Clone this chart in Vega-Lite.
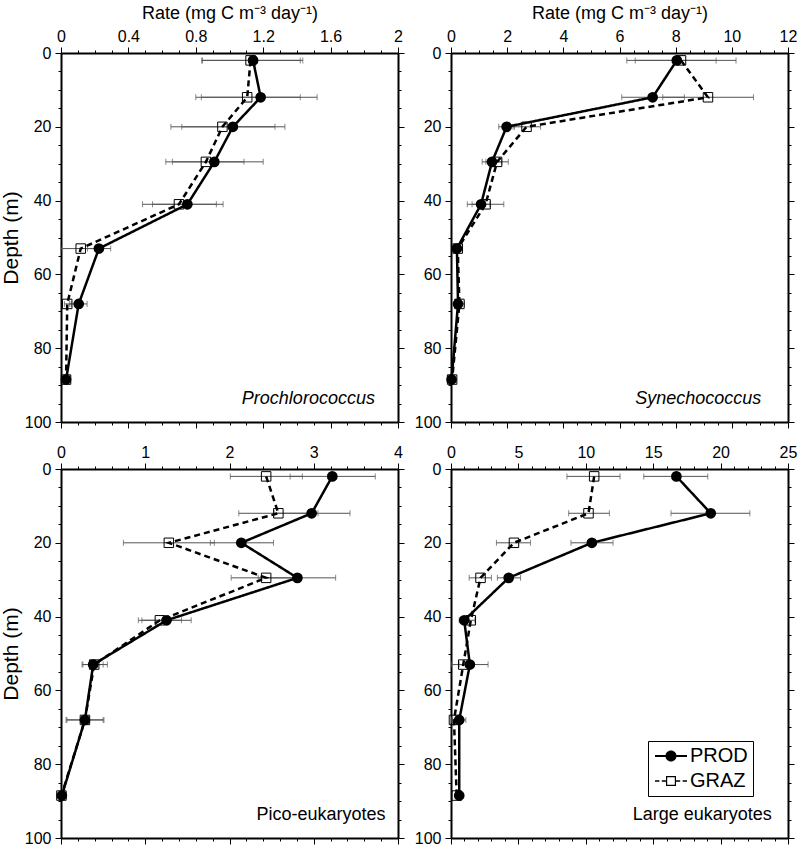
{
 "$schema": "https://vega.github.io/schema/vega-lite/v6.json",
 "padding": {"left": 0, "top": 4, "right": 5, "bottom": 5},
 "background": "white",
 "config": {
  "font": "Liberation Sans",
  "view": {"stroke": null},
  "axis": {"domainColor": "black", "domainWidth": 2, "tickColor": "black", "tickWidth": 1, "labelFontSize": 16, "labelColor": "black", "titleColor": "black", "titleFontWeight": "normal", "titleFontSize": 18, "grid": false, "labelFlush": false, "labelOverlap": false, "labelPadding": 3, "titlePadding": 6}
 },
 "datasets": {
  "rows": [
   {"panel":"P","series":"PROD","depth":2,"rate":1.14,"lo":0.84,"hi":1.435},
   {"panel":"P","series":"PROD","depth":12,"rate":1.185,"lo":0.833,"hi":1.52},
   {"panel":"P","series":"PROD","depth":20,"rate":1.02,"lo":0.717,"hi":1.329},
   {"panel":"P","series":"PROD","depth":29.5,"rate":0.91,"lo":0.622,"hi":1.2},
   {"panel":"P","series":"PROD","depth":41,"rate":0.75,"lo":0.543,"hi":0.962},
   {"panel":"P","series":"PROD","depth":53,"rate":0.225,"lo":0.157,"hi":0.295},
   {"panel":"P","series":"PROD","depth":68,"rate":0.105,"lo":0.05,"hi":0.155},
   {"panel":"P","series":"PROD","depth":88.5,"rate":0.03,"lo":null,"hi":null},
   {"panel":"P","series":"GRAZ","depth":2,"rate":1.125,"lo":0.835,"hi":1.42},
   {"panel":"P","series":"GRAZ","depth":12,"rate":1.105,"lo":0.8,"hi":1.42},
   {"panel":"P","series":"GRAZ","depth":20,"rate":0.958,"lo":0.652,"hi":1.27},
   {"panel":"P","series":"GRAZ","depth":29.5,"rate":0.86,"lo":0.661,"hi":1.086},
   {"panel":"P","series":"GRAZ","depth":41,"rate":0.7,"lo":0.484,"hi":0.922},
   {"panel":"P","series":"GRAZ","depth":53,"rate":0.117,"lo":0,"hi":0.235},
   {"panel":"P","series":"GRAZ","depth":68,"rate":0.037,"lo":0.02,"hi":0.06},
   {"panel":"P","series":"GRAZ","depth":88.5,"rate":0.03,"lo":null,"hi":null},
   {"panel":"S","series":"PROD","depth":2,"rate":8.04,"lo":6.56,"hi":9.44},
   {"panel":"S","series":"PROD","depth":12,"rate":7.18,"lo":6.08,"hi":8.31},
   {"panel":"S","series":"PROD","depth":20,"rate":1.98,"lo":1.7,"hi":2.26},
   {"panel":"S","series":"PROD","depth":29.5,"rate":1.46,"lo":1.11,"hi":1.81},
   {"panel":"S","series":"PROD","depth":41,"rate":1.07,"lo":0.75,"hi":1.39},
   {"panel":"S","series":"PROD","depth":53,"rate":0.21,"lo":0.13,"hi":0.29},
   {"panel":"S","series":"PROD","depth":68,"rate":0.25,"lo":0.12,"hi":0.38},
   {"panel":"S","series":"PROD","depth":88.5,"rate":0.02,"lo":null,"hi":null},
   {"panel":"S","series":"GRAZ","depth":2,"rate":8.19,"lo":6.26,"hi":10.15},
   {"panel":"S","series":"GRAZ","depth":12,"rate":9.15,"lo":7.54,"hi":10.77},
   {"panel":"S","series":"GRAZ","depth":20,"rate":2.69,"lo":2.21,"hi":3.19},
   {"panel":"S","series":"GRAZ","depth":29.5,"rate":1.64,"lo":1.24,"hi":2.04},
   {"panel":"S","series":"GRAZ","depth":41,"rate":1.23,"lo":0.58,"hi":1.88},
   {"panel":"S","series":"GRAZ","depth":53,"rate":0.24,"lo":0.15,"hi":0.33},
   {"panel":"S","series":"GRAZ","depth":68,"rate":0.3,"lo":0.12,"hi":0.48},
   {"panel":"S","series":"GRAZ","depth":88.5,"rate":0.04,"lo":null,"hi":null},
   {"panel":"PE","series":"PROD","depth":2,"rate":3.22,"lo":2.72,"hi":3.73},
   {"panel":"PE","series":"PROD","depth":12,"rate":2.975,"lo":2.53,"hi":3.43},
   {"panel":"PE","series":"PROD","depth":20,"rate":2.14,"lo":1.773,"hi":2.522},
   {"panel":"PE","series":"PROD","depth":29.5,"rate":2.806,"lo":2.34,"hi":3.26},
   {"panel":"PE","series":"PROD","depth":41,"rate":1.253,"lo":0.96,"hi":1.545},
   {"panel":"PE","series":"PROD","depth":53,"rate":0.382,"lo":0.26,"hi":0.5},
   {"panel":"PE","series":"PROD","depth":68,"rate":0.284,"lo":0.06,"hi":0.51},
   {"panel":"PE","series":"PROD","depth":88.5,"rate":0.01,"lo":null,"hi":null},
   {"panel":"PE","series":"GRAZ","depth":2,"rate":2.435,"lo":2.01,"hi":2.865},
   {"panel":"PE","series":"GRAZ","depth":12,"rate":2.58,"lo":2.11,"hi":3.05},
   {"panel":"PE","series":"GRAZ","depth":20,"rate":1.28,"lo":0.741,"hi":1.82},
   {"panel":"PE","series":"GRAZ","depth":29.5,"rate":2.435,"lo":2.02,"hi":2.85},
   {"panel":"PE","series":"GRAZ","depth":41,"rate":1.174,"lo":0.918,"hi":1.43},
   {"panel":"PE","series":"GRAZ","depth":53,"rate":0.394,"lo":0.25,"hi":0.55},
   {"panel":"PE","series":"GRAZ","depth":68,"rate":0.284,"lo":0.07,"hi":0.5},
   {"panel":"PE","series":"GRAZ","depth":88.5,"rate":0.005,"lo":null,"hi":null},
   {"panel":"LE","series":"PROD","depth":2,"rate":16.72,"lo":14.3,"hi":19.05},
   {"panel":"LE","series":"PROD","depth":12,"rate":19.27,"lo":16.32,"hi":22.17},
   {"panel":"LE","series":"PROD","depth":20,"rate":10.45,"lo":8.9,"hi":12.02},
   {"panel":"LE","series":"PROD","depth":29.5,"rate":4.28,"lo":3.44,"hi":5.16},
   {"panel":"LE","series":"PROD","depth":41,"rate":0.98,"lo":0.61,"hi":1.35},
   {"panel":"LE","series":"PROD","depth":53,"rate":1.4,"lo":0.05,"hi":2.75},
   {"panel":"LE","series":"PROD","depth":68,"rate":0.61,"lo":0.12,"hi":1.1},
   {"panel":"LE","series":"PROD","depth":88.5,"rate":0.61,"lo":null,"hi":null},
   {"panel":"LE","series":"GRAZ","depth":2,"rate":10.62,"lo":8.6,"hi":12.54},
   {"panel":"LE","series":"GRAZ","depth":12,"rate":10.2,"lo":8.73,"hi":11.75},
   {"panel":"LE","series":"GRAZ","depth":20,"rate":4.67,"lo":3.37,"hi":5.9},
   {"panel":"LE","series":"GRAZ","depth":29.5,"rate":2.19,"lo":1.35,"hi":3.0},
   {"panel":"LE","series":"GRAZ","depth":41,"rate":1.47,"lo":1.17,"hi":1.77},
   {"panel":"LE","series":"GRAZ","depth":53,"rate":0.91,"lo":0.6,"hi":1.2},
   {"panel":"LE","series":"GRAZ","depth":68,"rate":0.22,"lo":0.05,"hi":0.4},
   {"panel":"LE","series":"GRAZ","depth":88.5,"rate":0.42,"lo":null,"hi":null}
  ]
 },
 "columns": 2,
 "spacing": {"row": 47, "column": 53},
 "bounds": "flush",
 "resolve": {"scale": {"shape": "independent"}, "legend": {"shape": "independent"}},
 "concat": [
  {
   "width": 337, "height": 369,
   "resolve": {"axis": {"x": "independent", "y": "independent"}},
   "layer": [
    {"data": {"name": "rows"}, "transform": [{"filter": "datum.panel == 'P' && isValid(datum.lo)"}],
     "mark": {"type": "rule", "color": "#555", "strokeWidth": 1},
     "encoding": {
      "x": {"field": "lo", "type": "quantitative", "scale": {"domain": [0, 2], "nice": false, "zero": false},
            "axis": {"orient": "top", "values": [0,0.1,0.2,0.3,0.4,0.5,0.6,0.7,0.8,0.9,1,1.1,1.2,1.3,1.4,1.5,1.6,1.7,1.8,1.9,2], "format": "~g",
                     "labelExpr": "abs(datum.value/0.4 - round(datum.value/0.4)) < 0.001 ? datum.label : ''",
                     "tickSize": {"condition": {"test": "abs(datum.value/0.4 - round(datum.value/0.4)) < 0.001", "value": 6}, "value": 3},
                     "title": "Rate (mg C m⁻³ day⁻¹)"}},
      "x2": {"field": "hi"},
      "y": {"field": "depth", "type": "quantitative", "scale": {"domain": [0, 100], "reverse": true, "nice": false, "zero": false},
            "axis": {"orient": "left", "values": [0,5,10,15,20,25,30,35,40,45,50,55,60,65,70,75,80,85,90,95,100],
                     "labelExpr": "datum.value % 20 == 0 ? datum.label : ''",
                     "tickSize": {"condition": {"test": "datum.value % 20 == 0", "value": 6}, "value": 3},
                     "title": "Depth (m)", "titleFontSize": 21, "labelPadding": 4, "titlePadding": 3}}
     }},
    {"data": {"name": "rows"}, "transform": [{"filter": "datum.panel == 'P' && isValid(datum.lo)"}],
     "mark": {"type": "tick", "orient": "vertical", "color": "#555", "size": 6, "thickness": 1},
     "encoding": {
      "x": {"field": "lo", "type": "quantitative",
            "axis": {"orient": "bottom", "values": [0,0.1,0.2,0.3,0.4,0.5,0.6,0.7,0.8,0.9,1,1.1,1.2,1.3,1.4,1.5,1.6,1.7,1.8,1.9,2], "labels": false,
                     "tickSize": {"condition": {"test": "abs(datum.value/0.4 - round(datum.value/0.4)) < 0.001", "value": 6}, "value": 3}, "title": null}},
      "y": {"field": "depth", "type": "quantitative",
            "axis": {"orient": "right", "values": [0,5,10,15,20,25,30,35,40,45,50,55,60,65,70,75,80,85,90,95,100], "labels": false,
                     "tickSize": {"condition": {"test": "datum.value % 20 == 0", "value": 6}, "value": 3}, "title": null}}
     }},
    {"data": {"name": "rows"}, "transform": [{"filter": "datum.panel == 'P' && isValid(datum.hi)"}],
     "mark": {"type": "tick", "orient": "vertical", "color": "#555", "size": 6, "thickness": 1},
     "encoding": {"x": {"field": "hi", "type": "quantitative", "axis": null}, "y": {"field": "depth", "type": "quantitative", "axis": null}}},
    {"data": {"name": "rows"}, "transform": [{"filter": "datum.panel == 'P'"}],
     "mark": {"type": "line", "color": "black", "strokeWidth": 2.5},
     "encoding": {"x": {"field": "rate", "type": "quantitative", "axis": null}, "y": {"field": "depth", "type": "quantitative", "axis": null},
                  "order": {"field": "depth", "type": "quantitative"},
                  "strokeDash": {"field": "series", "type": "nominal", "scale": {"domain": ["PROD", "GRAZ"], "range": [[1, 0], [6, 4]]}, "legend": null}}},
    {"data": {"name": "rows"}, "transform": [{"filter": "datum.panel == 'P' && datum.series == 'GRAZ'"}],
     "mark": {"type": "point", "shape": "square", "filled": false, "color": "black", "strokeWidth": 1, "size": 90, "opacity": 1},
     "encoding": {"x": {"field": "rate", "type": "quantitative", "axis": null}, "y": {"field": "depth", "type": "quantitative", "axis": null}}},
    {"data": {"name": "rows"}, "transform": [{"filter": "datum.panel == 'P' && datum.series == 'PROD'"}],
     "mark": {"type": "point", "shape": "circle", "filled": true, "color": "black", "size": 115, "opacity": 1},
     "encoding": {"x": {"field": "rate", "type": "quantitative", "axis": null}, "y": {"field": "depth", "type": "quantitative", "axis": null}}},
    {"data": {"values": [{"label": "Prochlorococcus"}]},
     "mark": {"type": "text", "align": "right", "baseline": "alphabetic", "fontSize": 18, "fontStyle": "italic", "color": "black"},
     "encoding": {"text": {"field": "label"}, "x": {"datum": 1.863, "type": "quantitative", "axis": null}, "y": {"datum": 95, "type": "quantitative", "axis": null}}}
   ]
  },
  {
   "width": 337, "height": 369,
   "resolve": {"axis": {"x": "independent", "y": "independent"}},
   "layer": [
    {"data": {"name": "rows"}, "transform": [{"filter": "datum.panel == 'S' && isValid(datum.lo)"}],
     "mark": {"type": "rule", "color": "#555", "strokeWidth": 1},
     "encoding": {
      "x": {"field": "lo", "type": "quantitative", "scale": {"domain": [0, 12], "nice": false, "zero": false},
            "axis": {"orient": "top", "values": [0,0.5,1,1.5,2,2.5,3,3.5,4,4.5,5,5.5,6,6.5,7,7.5,8,8.5,9,9.5,10,10.5,11,11.5,12], "format": "~g",
                     "labelExpr": "datum.value % 2 == 0 ? datum.label : ''",
                     "tickSize": {"condition": {"test": "datum.value % 2 == 0", "value": 6}, "value": 3},
                     "title": "Rate (mg C m⁻³ day⁻¹)"}},
      "x2": {"field": "hi"},
      "y": {"field": "depth", "type": "quantitative", "scale": {"domain": [0, 100], "reverse": true, "nice": false, "zero": false},
            "axis": {"orient": "left", "values": [0,5,10,15,20,25,30,35,40,45,50,55,60,65,70,75,80,85,90,95,100],
                     "labelExpr": "datum.value % 20 == 0 ? datum.label : ''",
                     "tickSize": {"condition": {"test": "datum.value % 20 == 0", "value": 6}, "value": 3},
                     "title": null, "labelPadding": 4}}
     }},
    {"data": {"name": "rows"}, "transform": [{"filter": "datum.panel == 'S' && isValid(datum.lo)"}],
     "mark": {"type": "tick", "orient": "vertical", "color": "#555", "size": 6, "thickness": 1},
     "encoding": {
      "x": {"field": "lo", "type": "quantitative",
            "axis": {"orient": "bottom", "values": [0,0.5,1,1.5,2,2.5,3,3.5,4,4.5,5,5.5,6,6.5,7,7.5,8,8.5,9,9.5,10,10.5,11,11.5,12], "labels": false,
                     "tickSize": {"condition": {"test": "datum.value % 2 == 0", "value": 6}, "value": 3}, "title": null}},
      "y": {"field": "depth", "type": "quantitative",
            "axis": {"orient": "right", "values": [0,5,10,15,20,25,30,35,40,45,50,55,60,65,70,75,80,85,90,95,100], "labels": false,
                     "tickSize": {"condition": {"test": "datum.value % 20 == 0", "value": 6}, "value": 3}, "title": null}}
     }},
    {"data": {"name": "rows"}, "transform": [{"filter": "datum.panel == 'S' && isValid(datum.hi)"}],
     "mark": {"type": "tick", "orient": "vertical", "color": "#555", "size": 6, "thickness": 1},
     "encoding": {"x": {"field": "hi", "type": "quantitative", "axis": null}, "y": {"field": "depth", "type": "quantitative", "axis": null}}},
    {"data": {"name": "rows"}, "transform": [{"filter": "datum.panel == 'S'"}],
     "mark": {"type": "line", "color": "black", "strokeWidth": 2.5},
     "encoding": {"x": {"field": "rate", "type": "quantitative", "axis": null}, "y": {"field": "depth", "type": "quantitative", "axis": null},
                  "order": {"field": "depth", "type": "quantitative"},
                  "strokeDash": {"field": "series", "type": "nominal", "scale": {"domain": ["PROD", "GRAZ"], "range": [[1, 0], [6, 4]]}, "legend": null}}},
    {"data": {"name": "rows"}, "transform": [{"filter": "datum.panel == 'S' && datum.series == 'GRAZ'"}],
     "mark": {"type": "point", "shape": "square", "filled": false, "color": "black", "strokeWidth": 1, "size": 90, "opacity": 1},
     "encoding": {"x": {"field": "rate", "type": "quantitative", "axis": null}, "y": {"field": "depth", "type": "quantitative", "axis": null}}},
    {"data": {"name": "rows"}, "transform": [{"filter": "datum.panel == 'S' && datum.series == 'PROD'"}],
     "mark": {"type": "point", "shape": "circle", "filled": true, "color": "black", "size": 115, "opacity": 1},
     "encoding": {"x": {"field": "rate", "type": "quantitative", "axis": null}, "y": {"field": "depth", "type": "quantitative", "axis": null}}},
    {"data": {"values": [{"label": "Synechococcus"}]},
     "mark": {"type": "text", "align": "right", "baseline": "alphabetic", "fontSize": 18, "fontStyle": "italic", "color": "black"},
     "encoding": {"text": {"field": "label"}, "x": {"datum": 11.05, "type": "quantitative", "axis": null}, "y": {"datum": 95, "type": "quantitative", "axis": null}}}
   ]
  },
  {
   "width": 337, "height": 369,
   "resolve": {"axis": {"x": "independent", "y": "independent"}},
   "layer": [
    {"data": {"name": "rows"}, "transform": [{"filter": "datum.panel == 'PE' && isValid(datum.lo)"}],
     "mark": {"type": "rule", "color": "#555", "strokeWidth": 1},
     "encoding": {
      "x": {"field": "lo", "type": "quantitative", "scale": {"domain": [0, 4], "nice": false, "zero": false},
            "axis": {"orient": "top", "values": [0,0.2,0.4,0.6,0.8,1,1.2,1.4,1.6,1.8,2,2.2,2.4,2.6,2.8,3,3.2,3.4,3.6,3.8,4], "format": "~g",
                     "labelExpr": "datum.value % 1 == 0 ? datum.label : ''",
                     "tickSize": {"condition": {"test": "datum.value % 1 == 0", "value": 6}, "value": 3},
                     "title": null}},
      "x2": {"field": "hi"},
      "y": {"field": "depth", "type": "quantitative", "scale": {"domain": [0, 100], "reverse": true, "nice": false, "zero": false},
            "axis": {"orient": "left", "values": [0,5,10,15,20,25,30,35,40,45,50,55,60,65,70,75,80,85,90,95,100],
                     "labelExpr": "datum.value % 20 == 0 ? datum.label : ''",
                     "tickSize": {"condition": {"test": "datum.value % 20 == 0", "value": 6}, "value": 3},
                     "title": "Depth (m)", "titleFontSize": 21, "labelPadding": 4, "titlePadding": 3}}
     }},
    {"data": {"name": "rows"}, "transform": [{"filter": "datum.panel == 'PE' && isValid(datum.lo)"}],
     "mark": {"type": "tick", "orient": "vertical", "color": "#555", "size": 6, "thickness": 1},
     "encoding": {
      "x": {"field": "lo", "type": "quantitative",
            "axis": {"orient": "bottom", "values": [0,0.2,0.4,0.6,0.8,1,1.2,1.4,1.6,1.8,2,2.2,2.4,2.6,2.8,3,3.2,3.4,3.6,3.8,4], "labels": false,
                     "tickSize": {"condition": {"test": "datum.value % 1 == 0", "value": 6}, "value": 3}, "title": null}},
      "y": {"field": "depth", "type": "quantitative",
            "axis": {"orient": "right", "values": [0,5,10,15,20,25,30,35,40,45,50,55,60,65,70,75,80,85,90,95,100], "labels": false,
                     "tickSize": {"condition": {"test": "datum.value % 20 == 0", "value": 6}, "value": 3}, "title": null}}
     }},
    {"data": {"name": "rows"}, "transform": [{"filter": "datum.panel == 'PE' && isValid(datum.hi)"}],
     "mark": {"type": "tick", "orient": "vertical", "color": "#555", "size": 6, "thickness": 1},
     "encoding": {"x": {"field": "hi", "type": "quantitative", "axis": null}, "y": {"field": "depth", "type": "quantitative", "axis": null}}},
    {"data": {"name": "rows"}, "transform": [{"filter": "datum.panel == 'PE'"}],
     "mark": {"type": "line", "color": "black", "strokeWidth": 2.5},
     "encoding": {"x": {"field": "rate", "type": "quantitative", "axis": null}, "y": {"field": "depth", "type": "quantitative", "axis": null},
                  "order": {"field": "depth", "type": "quantitative"},
                  "strokeDash": {"field": "series", "type": "nominal", "scale": {"domain": ["PROD", "GRAZ"], "range": [[1, 0], [6, 4]]}, "legend": null}}},
    {"data": {"name": "rows"}, "transform": [{"filter": "datum.panel == 'PE' && datum.series == 'GRAZ'"}],
     "mark": {"type": "point", "shape": "square", "filled": false, "color": "black", "strokeWidth": 1, "size": 90, "opacity": 1},
     "encoding": {"x": {"field": "rate", "type": "quantitative", "axis": null}, "y": {"field": "depth", "type": "quantitative", "axis": null}}},
    {"data": {"name": "rows"}, "transform": [{"filter": "datum.panel == 'PE' && datum.series == 'PROD'"}],
     "mark": {"type": "point", "shape": "circle", "filled": true, "color": "black", "size": 115, "opacity": 1},
     "encoding": {"x": {"field": "rate", "type": "quantitative", "axis": null}, "y": {"field": "depth", "type": "quantitative", "axis": null}}},
    {"data": {"values": [{"label": "Pico-eukaryotes"}]},
     "mark": {"type": "text", "align": "right", "baseline": "alphabetic", "fontSize": 18, "color": "black"},
     "encoding": {"text": {"field": "label"}, "x": {"datum": 3.853, "type": "quantitative", "axis": null}, "y": {"datum": 95, "type": "quantitative", "axis": null}}}
   ]
  },
  {
   "width": 337, "height": 369,
   "resolve": {"axis": {"x": "independent", "y": "independent"}},
   "layer": [
    {"data": {"name": "rows"}, "transform": [{"filter": "datum.panel == 'LE' && isValid(datum.lo)"}],
     "mark": {"type": "rule", "color": "#555", "strokeWidth": 1},
     "encoding": {
      "x": {"field": "lo", "type": "quantitative", "scale": {"domain": [0, 25], "nice": false, "zero": false},
            "axis": {"orient": "top", "values": [0,1,2,3,4,5,6,7,8,9,10,11,12,13,14,15,16,17,18,19,20,21,22,23,24,25], "format": "~g",
                     "labelExpr": "datum.value % 5 == 0 ? datum.label : ''",
                     "tickSize": {"condition": {"test": "datum.value % 5 == 0", "value": 6}, "value": 3},
                     "title": null}},
      "x2": {"field": "hi"},
      "y": {"field": "depth", "type": "quantitative", "scale": {"domain": [0, 100], "reverse": true, "nice": false, "zero": false},
            "axis": {"orient": "left", "values": [0,5,10,15,20,25,30,35,40,45,50,55,60,65,70,75,80,85,90,95,100],
                     "labelExpr": "datum.value % 20 == 0 ? datum.label : ''",
                     "tickSize": {"condition": {"test": "datum.value % 20 == 0", "value": 6}, "value": 3},
                     "title": null, "labelPadding": 4}}
     }},
    {"data": {"name": "rows"}, "transform": [{"filter": "datum.panel == 'LE' && isValid(datum.lo)"}],
     "mark": {"type": "tick", "orient": "vertical", "color": "#555", "size": 6, "thickness": 1},
     "encoding": {
      "x": {"field": "lo", "type": "quantitative",
            "axis": {"orient": "bottom", "values": [0,1,2,3,4,5,6,7,8,9,10,11,12,13,14,15,16,17,18,19,20,21,22,23,24,25], "labels": false,
                     "tickSize": {"condition": {"test": "datum.value % 5 == 0", "value": 6}, "value": 3}, "title": null}},
      "y": {"field": "depth", "type": "quantitative",
            "axis": {"orient": "right", "values": [0,5,10,15,20,25,30,35,40,45,50,55,60,65,70,75,80,85,90,95,100], "labels": false,
                     "tickSize": {"condition": {"test": "datum.value % 20 == 0", "value": 6}, "value": 3}, "title": null}}
     }},
    {"data": {"name": "rows"}, "transform": [{"filter": "datum.panel == 'LE' && isValid(datum.hi)"}],
     "mark": {"type": "tick", "orient": "vertical", "color": "#555", "size": 6, "thickness": 1},
     "encoding": {"x": {"field": "hi", "type": "quantitative", "axis": null}, "y": {"field": "depth", "type": "quantitative", "axis": null}}},
    {"data": {"name": "rows"}, "transform": [{"filter": "datum.panel == 'LE'"}],
     "mark": {"type": "line", "color": "black", "strokeWidth": 2.5},
     "encoding": {"x": {"field": "rate", "type": "quantitative", "axis": null}, "y": {"field": "depth", "type": "quantitative", "axis": null},
                  "order": {"field": "depth", "type": "quantitative"},
                  "strokeDash": {"field": "series", "type": "nominal", "scale": {"domain": ["PROD", "GRAZ"], "range": [[1, 0], [6, 4]]}, "legend": null}}},
    {"data": {"name": "rows"}, "transform": [{"filter": "datum.panel == 'LE' && datum.series == 'GRAZ'"}],
     "mark": {"type": "point", "shape": "square", "filled": false, "color": "black", "strokeWidth": 1, "size": 90, "opacity": 1},
     "encoding": {"x": {"field": "rate", "type": "quantitative", "axis": null}, "y": {"field": "depth", "type": "quantitative", "axis": null}}},
    {"data": {"name": "rows"}, "transform": [{"filter": "datum.panel == 'LE' && datum.series == 'PROD'"}],
     "mark": {"type": "point", "shape": "circle", "filled": true, "color": "black", "size": 115, "opacity": 1},
     "encoding": {"x": {"field": "rate", "type": "quantitative", "axis": null}, "y": {"field": "depth", "type": "quantitative", "axis": null}}},
    {"data": {"values": [{"label": "Large eukaryotes"}]},
     "mark": {"type": "text", "align": "right", "baseline": "alphabetic", "fontSize": 18, "color": "black"},
     "encoding": {"text": {"field": "label"}, "x": {"datum": 23.8, "type": "quantitative", "axis": null}, "y": {"datum": 95, "type": "quantitative", "axis": null}}},
    {"data": {"name": "rows"}, "transform": [{"filter": "datum.panel == 'LE' && datum.depth == 2"}],
     "mark": {"type": "point", "filled": true, "color": "black", "opacity": 0},
     "encoding": {"x": {"field": "rate", "type": "quantitative", "axis": null}, "y": {"field": "depth", "type": "quantitative", "axis": null},
                  "shape": {"field": "series", "type": "nominal",
                            "scale": {"domain": ["PROD", "GRAZ"], "range": [
                              "M-1,-0.125H0.31V0.125H-1Z M1.69,-0.125H3V0.125H1.69Z M0.31,0A0.69,0.69 0 1,1 1.69,0A0.69,0.69 0 1,1 0.31,0Z",
                              "M-1,-0.09H-0.45V0.09H-1Z M-0.15,-0.09H0.375V0.09H-0.15Z M1.625,-0.09H2.15V0.09H1.625Z M2.45,-0.09H3V0.09H2.45Z M0.375,-0.625H1.625V0.625H0.375Z M0.525,-0.475V0.475H1.475V-0.475Z"]},
                            "legend": {"orient": "none", "legendX": 197, "legendY": 272, "title": null, "fillColor": "white", "strokeColor": "black",
                                       "padding": 5, "rowPadding": 5, "symbolSize": 256, "symbolFillColor": "black", "symbolStrokeWidth": 0,
                                       "symbolStrokeColor": "transparent", "symbolOpacity": 1, "labelFontSize": 20, "labelOffset": 17, "labelColor": "black"}}}}
   ]
  }
 ]
}
